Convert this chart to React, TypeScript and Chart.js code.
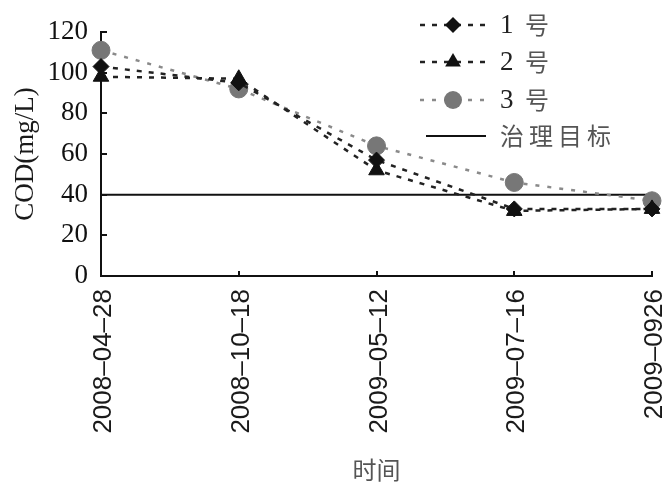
import React, { useEffect, useRef } from "react";
import { Chart, registerables } from "chart.js";

Chart.register(...registerables);

const categories = ["2008–04–28", "2008–10–18", "2009–05–12", "2009–07–16", "2009–0926"];
const series1 = [103, 95, 57, 33, 33];
const series2 = [98, 97, 52, 32, 33];
const series3 = [111, 92, 64, 46, 37];
const target = [40, 40, 40, 40, 40];
const seriesNames = ["1 号", "2 号", "3 号", "治理目标"];
const yTicks = [0, 20, 40, 60, 80, 100, 120];

const SERIF = "'Liberation Serif', 'Times New Roman', 'Noto Sans CJK SC', serif";
const SANS = "'Liberation Sans', Arial, sans-serif";

const innerTicks = {
  id: "innerTicks",
  afterDraw(chart: any) {
    const { ctx, chartArea, scales } = chart;
    ctx.save();
    ctx.strokeStyle = "#111";
    ctx.lineWidth = 2;
    ctx.beginPath();
    yTicks.forEach((v) => {
      if (v === 0) return;
      const y = Math.round(scales.y.getPixelForValue(v));
      ctx.moveTo(chartArea.left, y);
      ctx.lineTo(chartArea.left + 6, y);
    });
    categories.forEach((_, i) => {
      if (i === 0) return;
      const x = Math.round(scales.x.getPixelForValue(i));
      ctx.moveTo(x, chartArea.bottom);
      ctx.lineTo(x, chartArea.bottom - 5);
    });
    ctx.stroke();
    ctx.restore();
  },
};

function drawMarker(ctx: CanvasRenderingContext2D, style: string, x: number, y: number, r: number) {
  ctx.beginPath();
  if (style === "rectRot") {
    ctx.moveTo(x, y - r);
    ctx.lineTo(x + r, y);
    ctx.lineTo(x, y + r);
    ctx.lineTo(x - r, y);
    ctx.closePath();
  } else if (style === "triangle") {
    ctx.moveTo(x, y - r);
    ctx.lineTo(x + r * 0.87, y + r * 0.5);
    ctx.lineTo(x - r * 0.87, y + r * 0.5);
    ctx.closePath();
  } else {
    ctx.arc(x, y, r, 0, Math.PI * 2);
  }
  ctx.fill();
}

const customLegend = {
  id: "customLegend",
  afterDraw(chart: any) {
    const { ctx } = chart;
    const x0 = 420;
    const x1 = 486;
    const textX = 500;
    const rows = [25, 62, 100, 136];
    ctx.save();
    chart.data.datasets.forEach((ds: any, i: number) => {
      const y = rows[i];
      ctx.strokeStyle = ds.borderColor;
      ctx.lineWidth = ds.borderWidth;
      ctx.setLineDash(ds.borderDash || []);
      ctx.beginPath();
      ctx.moveTo(i === 3 ? x0 + 6 : x0, y);
      ctx.lineTo(x1, y);
      ctx.stroke();
      ctx.setLineDash([]);
      if (ds.pointRadius > 0) {
        ctx.fillStyle = ds.pointBackgroundColor;
        drawMarker(ctx, ds.pointStyle, 453, y, ds.pointRadius);
      }
      ctx.textBaseline = "middle";
      ctx.textAlign = "left";
      const label = ds.label as string;
      if (i < 3) {
        const parts = label.split(" ");
        ctx.fillStyle = "#222";
        ctx.font = `27px ${SERIF}`;
        ctx.fillText(parts[0], textX, y + 1);
        ctx.font = `24px 'Noto Sans CJK SC', sans-serif`;
        ctx.fillStyle = "#555";
        ctx.fillText(parts[1], textX + 25, y);
      } else {
        ctx.font = `24px 'Noto Sans CJK SC', sans-serif`;
        ctx.fillStyle = "#555";
        let cx = textX;
        for (const ch of label) {
          ctx.fillText(ch, cx, y);
          cx += 29;
        }
      }
    });
    ctx.restore();
  },
};

export default function App() {
  const ref = useRef<HTMLCanvasElement | null>(null);

  useEffect(() => {
    document.body.style.margin = "0";
    if (!ref.current) return;
    const chart = new Chart(ref.current, {
      type: "line",
      data: {
        labels: categories,
        datasets: [
          {
            label: seriesNames[0],
            data: series1,
            borderColor: "#222",
            borderWidth: 2.5,
            borderDash: [5, 7],
            pointStyle: "rectRot",
            pointRadius: 8,
            pointBackgroundColor: "#111",
            pointBorderColor: "#111",
            pointBorderWidth: 1,
            clip: false,
          },
          {
            label: seriesNames[1],
            data: series2,
            borderColor: "#222",
            borderWidth: 2.5,
            borderDash: [5, 7],
            pointStyle: "triangle",
            pointRadius: 9,
            pointBackgroundColor: "#111",
            pointBorderColor: "#111",
            pointBorderWidth: 1,
            clip: false,
          },
          {
            label: seriesNames[2],
            data: series3,
            borderColor: "#8a8a8a",
            borderWidth: 2.5,
            borderDash: [4, 8],
            pointStyle: "circle",
            pointRadius: 9,
            pointBackgroundColor: "#777",
            pointBorderColor: "#777",
            pointBorderWidth: 1,
            clip: false,
          },
          {
            label: seriesNames[3],
            data: target,
            borderColor: "#111",
            borderWidth: 2,
            pointRadius: 0,
            clip: false,
          },
        ] as any,
      },
      options: {
        responsive: false,
        animation: false,
        devicePixelRatio: 1,
        layout: { padding: { top: 32, right: 7, left: 0, bottom: 0 } },
        plugins: {
          legend: { display: false },
          tooltip: { enabled: false },
        },
        scales: {
          x: {
            type: "category",
            offset: false,
            grid: { display: false, drawTicks: false },
            border: { display: true, color: "#111", width: 2 },
            ticks: {
              minRotation: 90,
              maxRotation: 90,
              autoSkip: false,
              padding: 13,
              labelOffset: 3,
              color: "#1a1a1a",
              font: { family: SANS, size: 26 },
            },
            title: {
              display: true,
              text: "时间",
              color: "#555",
              font: { family: "'Noto Sans CJK SC', sans-serif", size: 24 },
              padding: { top: 0, bottom: 3 },
            },
            afterFit(scale: any) {
              scale.height = 211;
              scale.paddingLeft = 0;
              scale.paddingRight = 0;
            },
          },
          y: {
            min: 0,
            max: 120,
            grid: { display: false, drawTicks: false },
            border: { display: true, color: "#111", width: 2 },
            ticks: {
              stepSize: 20,
              padding: 13,
              color: "#111",
              font: { family: SERIF, size: 27 },
            },
            title: {
              display: true,
              text: "COD(mg/L)",
              color: "#1a1a1a",
              font: { family: SERIF, size: 27 },
              padding: { top: 10, bottom: 0 },
            },
            afterFit(scale: any) {
              scale.width = 101;
            },
          },
        },
      } as any,
      plugins: [innerTicks, customLegend],
    });
    return () => chart.destroy();
  }, []);

  return (
    <div style={{ width: 662, height: 487, background: "#fff" }}>
      <canvas ref={ref} width={662} height={487} style={{ display: "block" }} />
    </div>
  );
}
